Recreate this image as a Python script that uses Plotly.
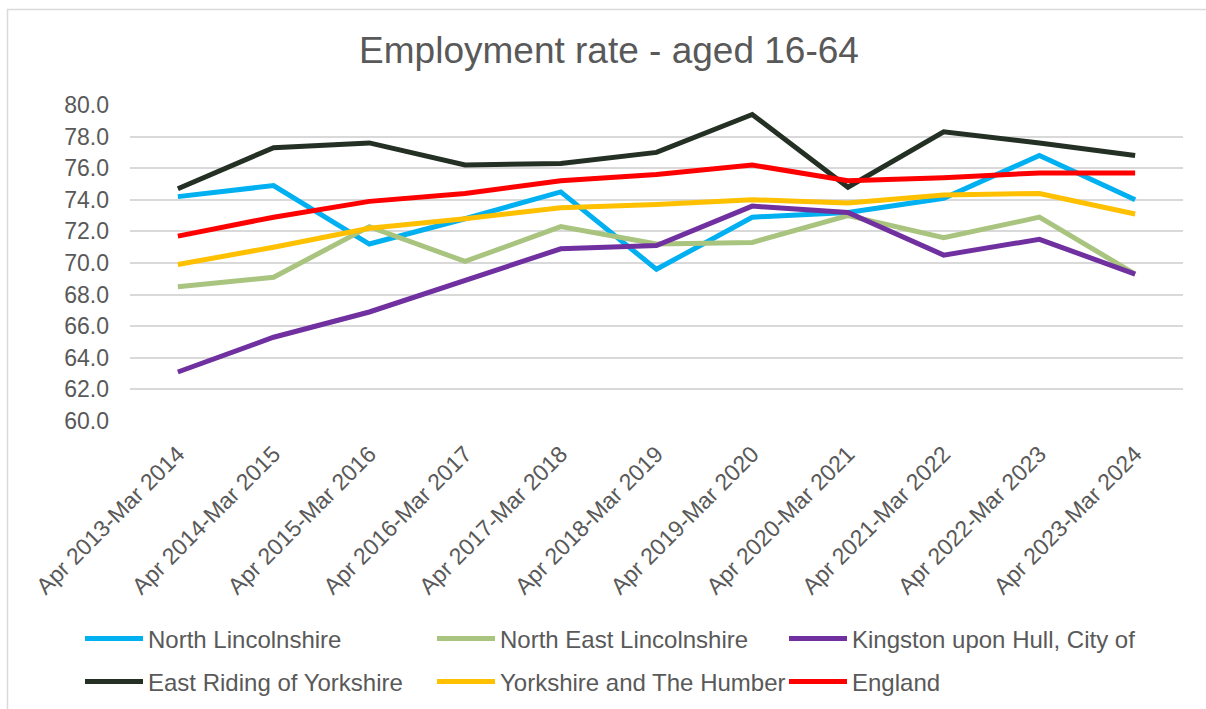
import plotly.graph_objects as go

periods = ["Apr 2013-Mar 2014", "Apr 2014-Mar 2015", "Apr 2015-Mar 2016", "Apr 2016-Mar 2017",
           "Apr 2017-Mar 2018", "Apr 2018-Mar 2019", "Apr 2019-Mar 2020", "Apr 2020-Mar 2021",
           "Apr 2021-Mar 2022", "Apr 2022-Mar 2023", "Apr 2023-Mar 2024"]

north_lincolnshire = [74.2, 74.9, 71.2, 72.8, 74.5, 69.6, 72.9, 73.2, 74.1, 76.8, 74.0]
north_east_lincolnshire = [68.5, 69.1, 72.3, 70.1, 72.3, 71.2, 71.3, 73.0, 71.6, 72.9, 69.3]
kingston_upon_hull = [63.1, 65.3, 66.9, 68.9, 70.9, 71.1, 73.6, 73.2, 70.5, 71.5, 69.3]
east_riding = [74.7, 77.3, 77.6, 76.2, 76.3, 77.0, 79.4, 74.8, 78.3, 77.6, 76.8]
yorkshire_humber = [69.9, 71.0, 72.2, 72.8, 73.5, 73.7, 74.0, 73.8, 74.3, 74.4, 73.1]
england = [71.7, 72.9, 73.9, 74.4, 75.2, 75.6, 76.2, 75.2, 75.4, 75.7, 75.7]

y_ticks = [60, 62, 64, 66, 68, 70, 72, 74, 76, 78, 80]

series_names = ["North Lincolnshire", "North East Lincolnshire", "Kingston upon Hull, City of",
                "East Riding of Yorkshire", "Yorkshire and The Humber", "England"]
series_values = [north_lincolnshire, north_east_lincolnshire, kingston_upon_hull,
                 east_riding, yorkshire_humber, england]
series_colors = ["#00B0F0", "#A9C47F", "#7030A0", "#243024", "#FFC000", "#FF0000"]

FONT = "Liberation Sans, Arial, sans-serif"
GREY = "#595959"
W, H = 1206, 709

# legend slot positions (container pixels): legend box left x, row centre y
legend_x = [80, 432, 784, 80, 432, 784]
legend_y = [639, 639, 639, 682, 682, 682]

fig = go.Figure()
legend_layout = {}
for i, (name, vals, color) in enumerate(zip(series_names, series_values, series_colors)):
    key = "legend" if i == 0 else f"legend{i + 1}"
    fig.add_trace(go.Scatter(x=periods, y=vals, name=name, mode="lines",
                             line=dict(color=color, width=5), legend=key))
    legend_layout[key] = dict(orientation="h", xref="container", yref="container",
                              x=legend_x[i] / W, y=1 - legend_y[i] / H,
                              xanchor="left", yanchor="middle", itemwidth=58,
                              font=dict(family=FONT, size=24, color=GREY),
                              bgcolor="rgba(0,0,0,0)", itemclick=False)

fig.update_layout(
    width=W, height=H,
    paper_bgcolor="white", plot_bgcolor="white",
    margin=dict(l=130, r=23, t=105, b=288, autoexpand=False),
    title=dict(text="Employment rate - aged 16-64", x=609 / W, xanchor="center", xref="container",
               y=1 - 50 / H, yanchor="middle", yref="container",
               font=dict(family=FONT, size=37, color=GREY)),
    xaxis=dict(type="category", range=[-0.5, len(periods) - 0.5], tickangle=-45,
               showgrid=False, zeroline=False, showline=False, ticks="", automargin=False,
               ticklabelshift=0, ticklabelstandoff=14,
               tickfont=dict(family=FONT, size=23, color=GREY)),
    yaxis=dict(range=[60, 80], tickvals=y_ticks, tickformat=".1f",
               showgrid=True, gridcolor="#D9D9D9", gridwidth=1.5, automargin=False,
               zeroline=False, showline=False, ticks="", ticklabelstandoff=20,
               tickfont=dict(family=FONT, size=23, color=GREY)),
    shapes=[dict(type="rect", xref="paper", yref="paper",
                 x0=(7.5 - 130) / 1053, x1=(1215 - 130) / 1053,
                 y0=(421 - 720) / 316, y1=(421 - 9.5) / 316,
                 line=dict(color="#D9D9D9", width=1.5), layer="below")],
    showlegend=True,
    **legend_layout,
)

fig.write_html("out.html", config={"displayModeBar": False},
               post_script="document.body.style.margin='0';")
